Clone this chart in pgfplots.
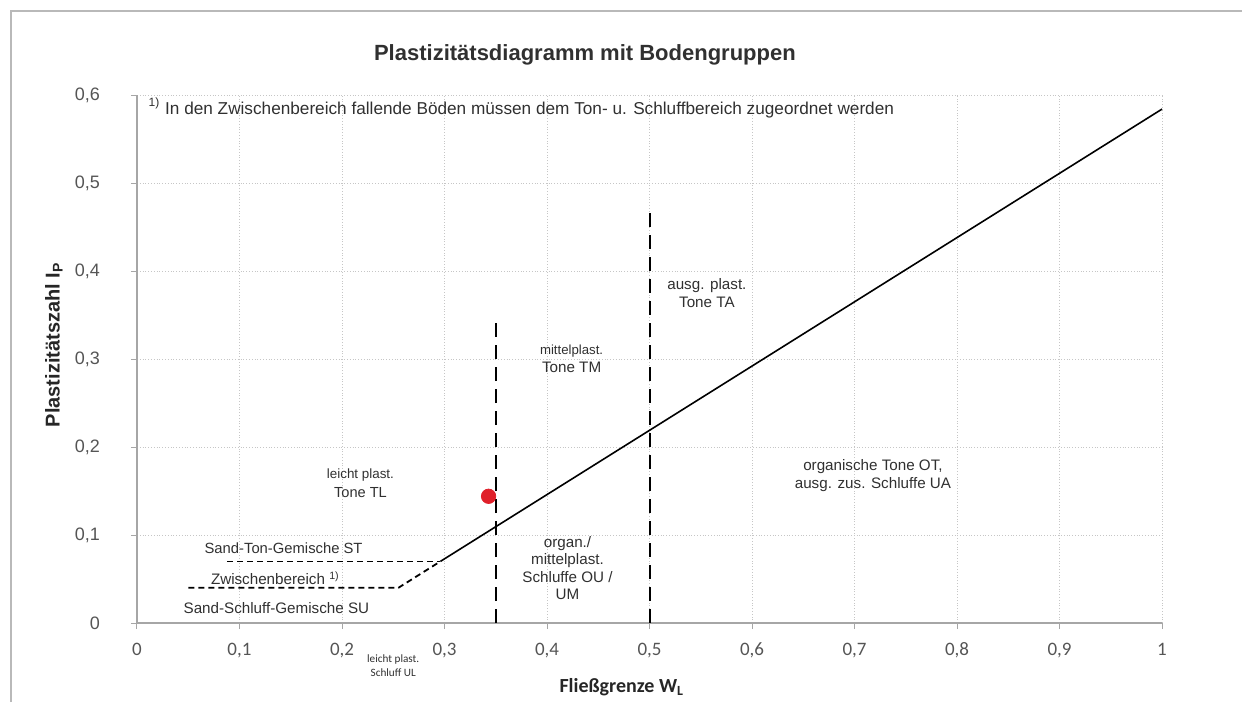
\documentclass[border=0pt]{standalone}
\usepackage{pgfplots}
\pgfplotsset{compat=1.18}
\usepackage{fontspec}
\setmainfont{Liberation Sans}
\newfontfamily\calibri{Carlito}
\definecolor{txt}{HTML}{303030}
\definecolor{tickc}{HTML}{555555}
\definecolor{ptred}{HTML}{E0202A}
\newcommand{\fs}[1]{\fontsize{#1}{#1}\selectfont}
\begin{document}
\begin{tikzpicture}
\useasboundingbox (0,0) rectangle (621pt,351pt);
\draw[gray!55, line width=0.6pt] (5.5pt,0) -- (5.5pt,345.5pt) -- (621pt,345.5pt);
\begin{axis}[
  at={(68.5pt,39.5pt)}, anchor=south west,
  scale only axis, width=512.5pt, height=264pt,
  xmin=0, xmax=1, ymin=0, ymax=0.6,
  axis x line=bottom, axis y line=left,
  axis line style={-, draw=gray!70, line width=0.6pt},
  xtick={0,0.1,0.2,0.3,0.4,0.5,0.6,0.7,0.8,0.9,1},
  xticklabels={0,{0,1},{0,2},{0,3},{0,4},{0,5},{0,6},{0,7},{0,8},{0,9},1},
  ytick={0,0.1,0.2,0.3,0.4,0.5,0.6},
  yticklabels={0,{0,1},{0,2},{0,3},{0,4},{0,5},{0,6}},
  tick align=outside, major tick length=3pt,
  tick style={gray!70, line width=0.5pt},
  xticklabel style={font=\calibri\fs{9.5}, text=tickc, yshift=-2.5pt, text height=7pt, text depth=2pt},
  yticklabel style={font=\fs{9}, text=tickc, xshift=-12pt},
  grid=major,
  major grid style={densely dotted, gray!45, line width=0.45pt},
  clip=false,
]
\addplot[black, line width=0.8pt] coordinates {(0.296,0.07) (1,0.584)};
\addplot[black, line width=0.9pt, dash pattern=on 3pt off 2pt] coordinates {(0.088,0.07) (0.296,0.07)};
\addplot[black, line width=0.9pt, dash pattern=on 3pt off 2pt] coordinates {(0.05,0.04) (0.255,0.04) (0.296,0.07)};
\addplot[black, line width=1pt, dash pattern=on 7pt off 4pt] coordinates {(0.35,0) (0.35,0.345)};
\addplot[black, line width=1pt, dash pattern=on 7pt off 4pt] coordinates {(0.5,0) (0.5,0.472)};
\addplot[only marks, mark=*, mark size=3.6pt, color=ptred, mark options={draw=ptred, fill=ptred}] coordinates {(0.343,0.144)};

\node[text=txt, font=\bfseries\fs{11}] at (rel axis cs:0.437,1.076) {Plastizitätsdiagramm mit Bodengruppen};
\node[text=black!85, font=\bfseries\fs{10}, rotate=90] at (rel axis cs:-0.081,0.527) {Plastizitätszahl I\textsubscript{P}};
\node[text=black!85, font=\calibri\bfseries\fs{10}] at (rel axis cs:0.473,-0.121) {Fließgrenze W\textsubscript{L}};
\node[text=txt, font=\fs{8.6}, anchor=west, inner sep=0pt] at (axis cs:0.011,0.585) {\textsuperscript{1)} In den Zwischenbereich fallende Böden müssen dem Ton- u. Schluffbereich zugeordnet werden};

\node[text=txt, font=\fs{6.7}] at (axis cs:0.218,0.168) {leicht plast.};
\node[text=txt, font=\fs{7.3}] at (axis cs:0.218,0.148) {Tone TL};
\node[text=txt, font=\fs{6.6}] at (axis cs:0.424,0.309) {mittelplast.};
\node[text=txt, font=\fs{7.6}] at (axis cs:0.424,0.290) {Tone TM};
\node[text=txt, font=\fs{7.6}] at (axis cs:0.556,0.384) {ausg. plast.};
\node[text=txt, font=\fs{7.6}] at (axis cs:0.556,0.364) {Tone TA};
\node[text=txt, font=\fontsize{7.6}{8.6}\selectfont, align=center] at (axis cs:0.42,0.0625) {organ./\\mittelplast.\\Schluffe OU /\\UM};
\node[text=txt, font=\fontsize{7.6}{9}\selectfont, align=center] at (axis cs:0.718,0.167) {organische Tone OT,\\ausg. zus. Schluffe UA};
\node[text=txt, font=\fs{7.4}] at (axis cs:0.143,0.085) {Sand-Ton-Gemische ST};
\node[text=txt, font=\fs{7.6}] at (axis cs:0.135,0.051) {Zwischenbereich \textsuperscript{1)}};
\node[text=txt, font=\fs{7.6}] at (axis cs:0.136,0.017) {Sand-Schluff-Gemische SU};
\node[text=txt, font=\calibri\fontsize{5.6}{7}\selectfont, align=center] at (axis cs:0.25,-0.049) {leicht plast.\\Schluff UL};
\end{axis}
\end{tikzpicture}
\end{document}
